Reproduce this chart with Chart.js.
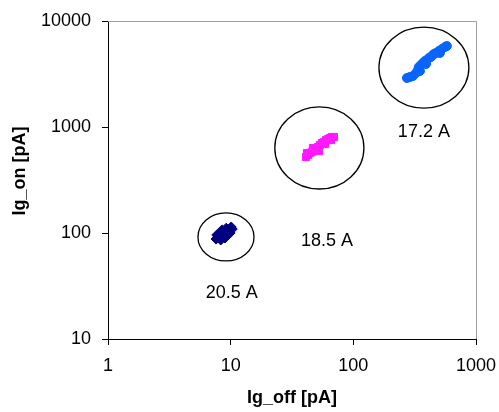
<!DOCTYPE html>
<html>
<head>
<meta charset="utf-8">
<script src="https://cdn.jsdelivr.net/npm/chart.js@4/dist/chart.umd.min.js"></script>
<style>
  html, body { margin: 0; padding: 0; background: #fff; }
  #wrap { width: 499px; height: 412px; }
</style>
</head>
<body>
<div id="wrap"><canvas id="scatterChart"></canvas></div>
<script>
// Ig_off / Ig_on pairs for the three groups (pA)
const navyX = [7.6, 7.9, 8.2, 8.5, 8.8, 9.2, 9.5, 9.9, 10.1, 8.0, 8.7, 9.3, 9.0, 9.7, 8.3, 7.7, 9.9, 9.2, 8.5, 10.3];
const navyY = [87.7, 89.7, 91.7, 93.7, 97.9, 102, 107, 109, 114, 95.7, 102, 95.7, 89.7, 100, 85.9, 95.7, 100, 111, 107, 109];

const magentaX = [41.1, 42.7, 44.3, 46.0, 47.7, 49.6, 51.5, 53.4, 55.5, 57.6, 59.8, 62.1, 64.5, 66.9, 69.5, 41.9, 46.8, 52.5, 58.7, 65.7];
const magentaY = [521, 545, 569, 581, 607, 620, 647, 676, 706, 721, 753, 770, 787, 805, 805, 569, 634, 594, 691, 753];

const blueX = [273.5, 289, 306, 324, 336, 342, 355.5, 369, 383, 398, 413, 429, 445, 471, 498, 527, 558, 579, 349, 391, 454, 508];
const blueY = [2899, 2963, 3027, 3231, 3450, 3681, 3845, 4017, 4194, 4287, 4477, 4575, 4778, 4991, 5212, 5443, 5685, 5810, 3376, 3929, 4883, 4991];

// circles drawn round each group: [xMin, xMax, yMin, yMax] in data units
const groupRings = [
  [5.41, 15.5, 54.5, 154.5],
  [22.9, 122, 260, 1545],
  [161.7, 875, 1510, 8770]
];
const groupLabels = ['20.5 A', '18.5 A', '17.2 A'];
const labelX = [10.2, 61, 376];
const labelY = [27, 84, 898];

const xTicks = [1, 10, 100, 1000];
const yTicks = [10, 100, 1000, 10000];
const yTitle = 'Ig_on [pA]';

function toPoints(xs, ys) {
  return xs.map((x, i) => ({ x: x, y: ys[i] }));
}

const annotatePlugin = {
  id: 'annotate',
  afterDatasetsDraw(chart) {
    const ctx = chart.ctx;
    const xs = chart.scales.x;
    const ys = chart.scales.y;
    const area = chart.chartArea;

    // gray frame on top and right
    ctx.save();
    ctx.strokeStyle = '#a0a0a0';
    ctx.lineWidth = 1;
    ctx.beginPath();
    ctx.moveTo(area.left, area.top + 0.5);
    ctx.lineTo(area.right + 0.5, area.top + 0.5);
    ctx.lineTo(area.right + 0.5, area.bottom);
    ctx.stroke();

    // rings
    ctx.strokeStyle = '#000';
    ctx.lineWidth = 1.3;
    groupRings.forEach(r => {
      const x1 = xs.getPixelForValue(r[0]);
      const x2 = xs.getPixelForValue(r[1]);
      const y1 = ys.getPixelForValue(r[2]);
      const y2 = ys.getPixelForValue(r[3]);
      ctx.beginPath();
      ctx.ellipse((x1 + x2) / 2, (y1 + y2) / 2, Math.abs(x2 - x1) / 2, Math.abs(y1 - y2) / 2, 0, 0, Math.PI * 2);
      ctx.stroke();
    });

    // labels
    ctx.fillStyle = '#000';
    ctx.font = '18px "Liberation Sans", Arial, sans-serif';
    ctx.textAlign = 'center';
    ctx.textBaseline = 'middle';
    groupLabels.forEach((t, i) => {
      ctx.fillText(t, xs.getPixelForValue(labelX[i]), ys.getPixelForValue(labelY[i]));
    });

    // y axis title, sits a little above the middle of the plot
    ctx.font = 'bold 18px "Liberation Sans", Arial, sans-serif';
    ctx.translate(20, (area.top + area.bottom) / 2 - 9);
    ctx.rotate(-Math.PI / 2);
    ctx.fillText(yTitle, 0, 0);
    ctx.restore();
  }
};

const tickFont = { family: '"Liberation Sans", Arial, sans-serif', size: 18 };
const titleFont = { family: '"Liberation Sans", Arial, sans-serif', size: 18, weight: 'bold' };

new Chart(document.getElementById('scatterChart'), {
  type: 'scatter',
  data: {
    datasets: [
      {
        label: '20.5 A',
        data: toPoints(navyX, navyY),
        backgroundColor: '#000080',
        borderColor: '#000080',
        pointStyle: 'rectRot',
        pointRadius: 5
      },
      {
        label: '18.5 A',
        data: toPoints(magentaX, magentaY),
        backgroundColor: '#ff1aff',
        borderColor: '#ff1aff',
        pointStyle: 'rect',
        pointRadius: 5
      },
      {
        label: '17.2 A',
        data: toPoints(blueX, blueY),
        backgroundColor: '#0a64ff',
        borderColor: '#0a64ff',
        pointStyle: 'circle',
        pointRadius: 4.5
      }
    ]
  },
  options: {
    responsive: true,
    maintainAspectRatio: false,
    animation: false,
    layout: { padding: { top: 21, right: 23, bottom: 0, left: 0 } },
    plugins: {
      legend: { display: false },
      tooltip: { enabled: false }
    },
    scales: {
      x: {
        type: 'logarithmic',
        min: 1,
        max: 1000,
        afterBuildTicks: s => { s.ticks = xTicks.map(v => ({ value: v })); },
        afterFit: s => { s.height = 73; s.paddingRight = 0; s.paddingLeft = 0; },
        grid: { drawOnChartArea: false, drawTicks: true, tickLength: 6, color: '#000' },
        border: { display: true, color: '#000', width: 1 },
        ticks: { color: '#000', font: tickFont, padding: 10, maxRotation: 0, callback: v => String(v) },
        title: { display: true, text: 'Ig_off [pA]', color: '#000', font: titleFont, padding: { top: 0, bottom: 3 } }
      },
      y: {
        type: 'logarithmic',
        min: 10,
        max: 10000,
        afterBuildTicks: s => { s.ticks = yTicks.map(v => ({ value: v })); },
        afterFit: s => { s.width = 108; s.paddingTop = 0; s.paddingBottom = 0; },
        grid: { drawOnChartArea: false, drawTicks: true, tickLength: 6, color: '#000' },
        border: { display: true, color: '#000', width: 1 },
        ticks: { color: '#000', font: tickFont, padding: 11, callback: v => String(v) },
        title: { display: false }
      }
    }
  },
  plugins: [annotatePlugin]
});
</script>
</body>
</html>
